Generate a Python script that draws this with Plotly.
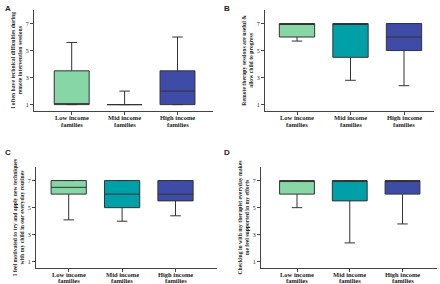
import plotly.graph_objects as go

categories = ["Low income<br>families", "Mid income<br>families", "High income<br>families"]
colors = ["#86d6a6", "#00a0a8", "#3e4ca8"]

titles = [
    "I often have technical difficulties during<br>remote intervention sessions",
    "Remote therapy sessions are useful &<br>allow child to progress",
    "I feel motivated to try and apply new techniques<br>with my child in our everyday routines",
    "Checking in with my therapist everyday makes<br>me feel supported in my efforts",
]
panel_letters = ["A", "B", "C", "D"]

# per-panel box statistics (Low, Mid, High)
A_lower = [1, 1, 1];   A_q1 = [1, 1, 1];     A_med = [1, 1, 2];   A_q3 = [3.5, 1, 3.5]; A_upper = [5.6, 2, 6]
B_lower = [5.7, 2.8, 2.4]; B_q1 = [6, 4.5, 5]; B_med = [7, 7, 6]; B_q3 = [7, 7, 7];   B_upper = [7, 7, 7]
C_lower = [4.1, 4.0, 4.4]; C_q1 = [6, 5, 5.5]; C_med = [6.5, 6, 6]; C_q3 = [7, 7, 7]; C_upper = [7, 7, 7]
D_lower = [5.0, 2.4, 3.8]; D_q1 = [6, 5.5, 6]; D_med = [7, 7, 7]; D_q3 = [7, 7, 7];   D_upper = [7, 7, 7]

y_ticks = [1, 3, 5, 7]

stats = [
    (A_lower, A_q1, A_med, A_q3, A_upper),
    (B_lower, B_q1, B_med, B_q3, B_upper),
    (C_lower, C_q1, C_med, C_q3, C_upper),
    (D_lower, D_q1, D_med, D_q3, D_upper),
]

W, H = 440, 284
# panel geometry in pixels: left, right, top, bottom, low-center, high-center
geom = [
    (34, 213, 10, 110.7, 71.7, 177.5),
    (265, 434, 10, 110.7, 297, 404),
    (36, 217, 167, 268, 68.7, 175.5),
    (261, 437, 167, 268, 297, 402.5),
]
label_offsets = [(6.8, 14.0), (6.8, 14.0), (6.0, 12.6), (6.0, 12.6)]
letter_pos = [(3, 2), (222, 2), (3, 146), (222, 146)]

fig = go.Figure()
layout = dict(
    width=W, height=H, margin=dict(l=0, r=0, t=0, b=0),
    paper_bgcolor="white", plot_bgcolor="white", showlegend=False,
    boxmode="overlay", annotations=[],
)

serif = "Liberation Serif"
for p in range(4):
    lo, q1, md, q3, up = stats[p]
    l, r, t, b, c0, c2 = geom[p]
    sp = (c2 - c0) / 2.0
    xr = [-(c0 - l) / sp, 2 + (r - c2) / sp]
    xa = "x" if p == 0 else f"x{p+1}"
    ya = "y" if p == 0 else f"y{p+1}"
    for i in range(3):
        fig.add_trace(go.Box(
            x=[i], q1=[q1[i]], median=[md[i]], q3=[q3[i]],
            lowerfence=[lo[i]], upperfence=[up[i]],
            fillcolor=colors[i], line=dict(color="#333333", width=1),
            width=0.66, whiskerwidth=0.3, boxpoints=False,
            xaxis=xa, yaxis=ya, hoverinfo="skip",
        ))
        # category label lines as annotations (tight line spacing)
        for k, line in enumerate(categories[i].split("<br>")):
            layout["annotations"].append(dict(
                text="<b>" + line + "</b>", x=i, xref=xa,
                y=1 - (b + label_offsets[p][k]) / H, yref="paper",
                xanchor="center", yanchor="middle", showarrow=False,
                font=dict(family=serif, size=6.5, color="#222"),
            ))
    xk = "xaxis" if p == 0 else f"xaxis{p+1}"
    yk = "yaxis" if p == 0 else f"yaxis{p+1}"
    layout[xk] = dict(
        domain=[l / W, r / W], anchor=ya, range=xr,
        tickmode="array", tickvals=[0, 1, 2], showticklabels=False,
        showline=True, linecolor="#444", linewidth=1,
        ticks="outside", ticklen=3, tickcolor="#444",
        showgrid=False, zeroline=False,
    )
    layout[yk] = dict(
        domain=[1 - b / H, 1 - t / H], anchor=xa, range=[0.55, 8.0],
        tickmode="array", tickvals=y_ticks,
        showline=True, linecolor="#444", linewidth=1,
        ticks="outside", ticklen=3, tickcolor="#444",
        showgrid=False, zeroline=False,
        tickfont=dict(family=serif, size=6, color="#222"),
        title=dict(text="<b>" + titles[p] + "</b>", standoff=2,
                   font=dict(family=serif, size=5.7, color="#222")),
    )
    lx, ly = letter_pos[p]
    layout["annotations"].append(dict(
        text="<b>" + panel_letters[p] + "</b>", x=lx / W, y=1 - ly / H,
        xref="paper", yref="paper", xanchor="left", yanchor="top",
        showarrow=False, font=dict(family="Liberation Sans", size=8, color="#222"),
    ))

fig.update_layout(**layout)
fig.write_html("out.html", config={"displayModeBar": False},
               post_script="document.body.style.margin='0';")
